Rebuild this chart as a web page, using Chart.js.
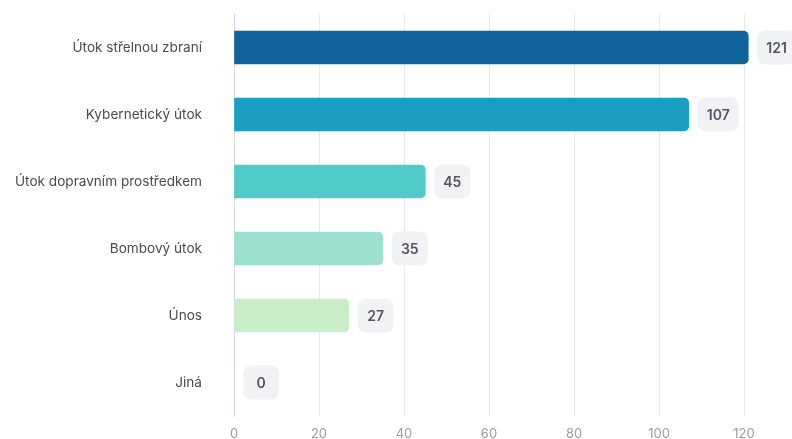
<!DOCTYPE html>
<html>
<head>
<meta charset="utf-8">
<script src="https://cdn.jsdelivr.net/npm/chart.js@4"></script>
<style>
  body { margin: 0; background: #fff; }
  #wrap { width: 792px; height: 439px; position: relative; }
</style>
</head>
<body>
<div id="wrap"><canvas id="myChart"></canvas></div>
<script>
"use strict"

// categories and values
let categories = [
    "Útok střelnou zbraní",
    "Kybernetický útok",
    "Útok dopravním prostředkem",
    "Bombový útok",
    "Únos",
    "Jiná"
];
let counts = [121, 107, 45, 35, 27, 0];
let barColors = ["#11639b", "#1a9fc2", "#4fcac8", "#9de0d0", "#c9ecc9", "#e6f5e0"];
let xTicks = [0, 20, 40, 60, 80, 100, 120];

// draws the little grey boxes with the value next to each bar
const valueBoxes = {
    id: "valueBoxes",
    afterDatasetsDraw(chart) {
        const ctx = chart.ctx;
        const meta = chart.getDatasetMeta(0);
        ctx.save();
        ctx.font = "600 14px Inter";
        ctx.textAlign = "center";
        ctx.textBaseline = "middle";
        meta.data.forEach((bar, i) => {
            let text = String(counts[i]);
            let w = Math.max(36, ctx.measureText(text).width + 18);
            let h = 34;
            let x = bar.x + 9;
            let y = bar.y - h / 2;
            ctx.fillStyle = "#f1f2f4";
            ctx.beginPath();
            ctx.roundRect(x, y, w, h, 8);
            ctx.fill();
            ctx.fillStyle = "#505663";
            ctx.fillText(text, x + w / 2, bar.y + 1);
        });
        ctx.restore();
    }
};

const ctx = document.getElementById("myChart").getContext("2d");
const myChart = new Chart(ctx, {
    type: "bar",
    data: {
        labels: categories,
        datasets: [{
            data: counts,
            backgroundColor: barColors,
            borderRadius: 5,
            borderSkipped: "start",
            barThickness: 33,
            clip: false   // 121 runs a bit past the 120 line
        }]
    },
    options: {
        indexAxis: "y",
        responsive: true,
        maintainAspectRatio: false,
        animation: false,
        layout: { padding: { top: 14, right: 48, left: 0, bottom: 0 } },
        plugins: {
            legend: { display: false },
            tooltip: { enabled: false }
        },
        scales: {
            x: {
                min: 0,
                max: 120,
                afterBuildTicks: (scale) => {
                    scale.ticks = xTicks.map(v => ({ value: v }));
                },
                afterFit: (scale) => { scale.height = 23; },
                grid: {
                    color: "#e9e9ec",
                    drawTicks: false
                },
                border: { display: false },
                ticks: {
                    color: "#9a9ca3",
                    font: { family: "Inter", size: 13 },
                    padding: 10
                }
            },
            y: {
                afterFit: (scale) => {
                    scale.width = 234;
                    // the big label padding should not eat the top and bottom
                    scale.paddingTop = 0;
                    scale.paddingBottom = 0;
                },
                grid: { display: false, drawTicks: false },
                border: { display: true, color: "#d3d6e8", width: 1 },
                ticks: {
                    color: "#4a4b52",
                    font: { family: "Inter", size: 13.6 },
                    padding: 32
                }
            }
        }
    },
    plugins: [valueBoxes]
});
</script>
</body>
</html>
